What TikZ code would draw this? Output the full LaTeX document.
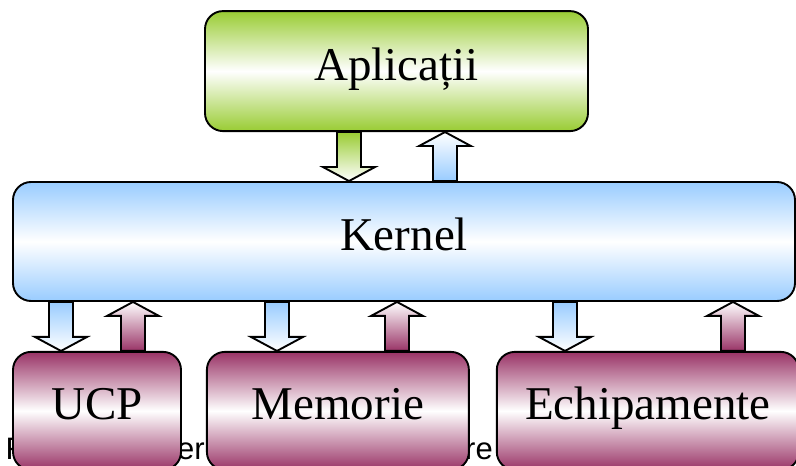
\documentclass[tikz,border=0pt]{standalone}
\usepackage{fontspec}
\setmainfont{Liberation Serif}
\newfontfamily\arialfont{Liberation Sans}
\usetikzlibrary{positioning,calc}

\definecolor{appgreen}{RGB}{153,204,51}
\definecolor{kerblue}{RGB}{153,204,255}
\definecolor{devred}{RGB}{153,51,102}

\tikzset{
  box/.style={draw=black, line width=1.9pt, rounded corners=18pt, inner sep=0pt,
    font=\fontsize{47}{56}\selectfont, text height=33pt, text depth=15pt},
  abox/.style={box, minimum width=383pt, minimum height=120pt,
    top color=appgreen, bottom color=appgreen, middle color=white},
  kbox/.style={box, minimum width=782pt, minimum height=119pt,
    top color=kerblue, bottom color=kerblue, middle color=white},
  dbox/.style={box, minimum height=118pt,
    top color=devred, bottom color=devred, middle color=white},
  blk/.style={draw=black, line width=1.9pt},
  frag/.style={anchor=base west, inner sep=0pt, font=\arialfont\fontsize{31}{36}\selectfont},
}

% hollow block arrows: x position, upper node, lower node, colour at the tail
\newcommand{\downblk}[4]{%
  \draw[blk, top color=#4, bottom color=white] let \p1=(#2.south), \p2=(#3.north) in
    ({#1pt-12pt},\y1) -- ({#1pt+12pt},\y1) -- ({#1pt+12pt},{\y2+14pt}) -- ({#1pt+26pt},{\y2+14pt})
    -- (#1pt,\y2) -- ({#1pt-26pt},{\y2+14pt}) -- ({#1pt-12pt},{\y2+14pt}) -- cycle;}
\newcommand{\upblk}[4]{%
  \draw[blk, top color=white, bottom color=#4] let \p1=(#2.south), \p2=(#3.north) in
    ({#1pt-12pt},\y2) -- ({#1pt+12pt},\y2) -- ({#1pt+12pt},{\y1-14pt}) -- ({#1pt+26pt},{\y1-14pt})
    -- (#1pt,\y1) -- ({#1pt-26pt},{\y1-14pt}) -- ({#1pt-12pt},{\y1-14pt}) -- cycle;}

\begin{document}
\begin{tikzpicture}[x=1pt, y=1pt]
  \useasboundingbox (0,0) rectangle (796,466);

  % caption pieces left showing between the device boxes
  \node[frag] (f1) at (5.5,6) {R};
  \node[frag] (f2) at (177,6) {er};
  \node[frag] (f3) at (465,6) {re};

  \node[kbox] (ker) at (404,224.5) {Kernel};
  \node[abox] (app) [above=49pt of ker, xshift=-7.5pt] {Aplicații};

  \node[dbox, minimum width=168pt] (ucp) [below=49pt of ker.south west, anchor=north west] {UCP};
  \node[dbox, minimum width=262pt] (mem) [right=24pt of ucp] {Memorie};
  \node[dbox, minimum width=302pt] (dev) [right=26pt of mem] {Echipamente};

  \downblk{349}{app}{ker}{appgreen}
  \upblk{445}{app}{ker}{kerblue}

  \downblk{61}{ker}{ucp}{kerblue}
  \upblk{133}{ker}{ucp}{devred}
  \downblk{277}{ker}{mem}{kerblue}
  \upblk{397}{ker}{mem}{devred}
  \downblk{565}{ker}{dev}{kerblue}
  \upblk{733}{ker}{dev}{devred}
\end{tikzpicture}
\end{document}
